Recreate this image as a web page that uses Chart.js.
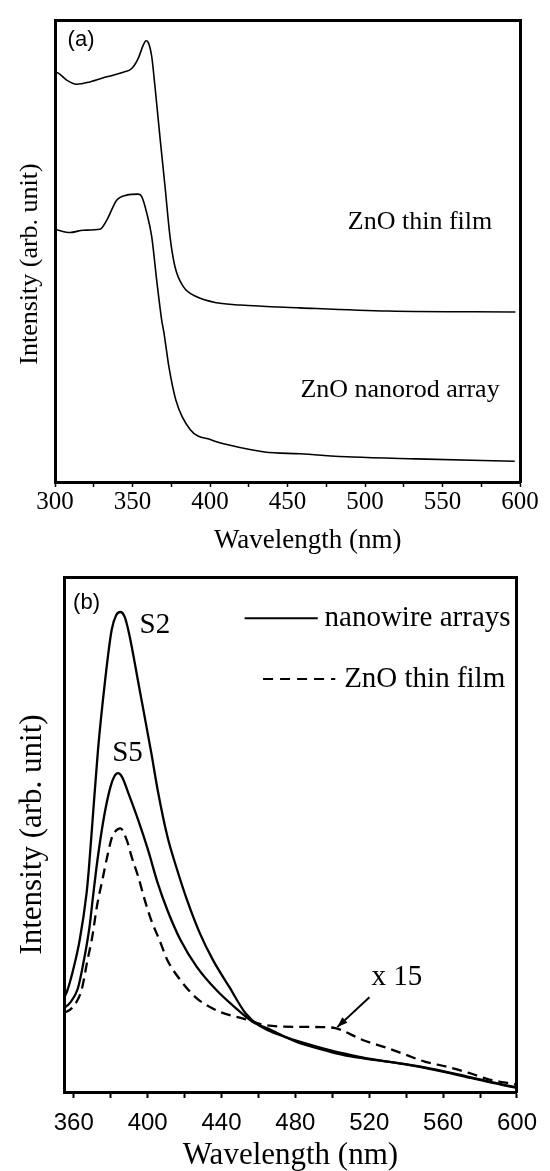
<!DOCTYPE html>
<html>
<head>
<meta charset="utf-8">
<script src="https://cdn.jsdelivr.net/npm/chart.js@4/dist/chart.umd.min.js"></script>
<style>
  body { margin: 0; background: #fff; }
  canvas { display: block; }
</style>
</head>
<body>
<canvas id="absorb" width="550" height="560"></canvas>
<canvas id="pl" width="550" height="611"></canvas>
<script>
// panel (a) - absorption, wavelength in nm / intensity in arb. units
const waveFilmA = [300, 302.1, 307.5, 314, 322.6, 333.4, 344.1, 349.5, 353.7, 357, 358.7, 360.2, 362.4, 364.5, 367.7, 371, 374.2, 377.4, 382.8, 391.4, 404.3, 419.4, 458, 515, 597]
const filmA = [88.7, 88.5, 87.0, 86.1, 86.6, 87.7, 88.7, 89.5, 91.7, 94.6, 95.5, 95.1, 92.1, 85.6, 74.7, 63.9, 53.1, 46.6, 42.3, 40.1, 38.8, 38.3, 37.7, 37.0, 36.8]
const waveRodA = [300, 302.1, 309.7, 318.3, 329, 333.4, 339.8, 346.3, 353.7, 355.9, 359.2, 362.4, 365.6, 368.8, 370.3, 373.5, 378, 387.3, 401, 412.3, 435.2, 457.9, 492, 533, 596.6]
const rodA = [54.7, 54.5, 54.0, 54.5, 54.7, 56.7, 61.0, 62.1, 62.3, 61.8, 58.2, 53.1, 43.7, 35.1, 32.3, 24.9, 17.7, 11.3, 9.1, 8.0, 6.5, 6.1, 5.4, 5.0, 4.5]

// panel (b) - PL spectra
const waveS2 = [354.7, 356.3, 359.5, 363.2, 366.9, 368.2, 370.3, 373.1, 376.8, 380.5, 383, 385.2, 387.5, 389.9, 395.4, 401.9, 405.5, 410.7, 416, 421.3, 428.3, 435.4, 444.2, 453, 460, 474.2, 479.5, 498, 507.5, 518, 532, 550, 568, 585, 600]
const s2 = [18.3, 19.5, 23.5, 29.5, 38.5, 43.5, 53.4, 66.4, 79.4, 89.7, 92.6, 93.2, 92.3, 89.1, 78.6, 66.0, 58.5, 49.6, 43.1, 37.3, 30.8, 25.6, 20.4, 15.3, 13.0, 10.7, 10.1, 8.2, 7.4, 6.6, 5.8, 4.7, 3.3, 1.9, 0.8]
const waveS5 = [354.7, 357.9, 362.1, 364.8, 368.5, 370.2, 372.8, 376.4, 379.9, 382, 383.9, 386.1, 389.6, 394.9, 400.2, 405.5, 410.7, 417.8, 426.6, 437.2, 447.7, 456.6, 467.1, 480, 498, 510, 530, 550, 568, 585, 600]
const s5 = [16.3, 17.3, 20.0, 24.3, 32.0, 37.3, 45.0, 53.5, 59.3, 61.3, 61.9, 61.2, 58.0, 52.8, 47.0, 40.5, 35.3, 29.5, 24.3, 19.8, 16.3, 13.7, 12.0, 9.8, 7.9, 6.9, 5.9, 4.8, 3.4, 2.0, 0.9]
const waveFilmB = [354.7, 359.5, 364.2, 367.4, 369.7, 372.8, 375.5, 378.1, 380.8, 383, 385.2, 388.7, 391.3, 394.9, 398.4, 401.9, 406.4, 410.7, 417.8, 426.6, 438.9, 451.3, 463.6, 474.2, 494.2, 501.6, 516.4, 530, 540, 550, 562, 574, 585, 594, 600]
const filmB = [15.3, 16.5, 19.8, 25.6, 29.5, 36.6, 41.2, 45.7, 49.6, 50.8, 51.2, 48.9, 45.7, 41.8, 37.3, 33.4, 29.5, 25.6, 21.7, 18.2, 15.6, 14.3, 13.0, 12.7, 12.6, 12.4, 10.1, 8.5, 7.2, 5.9, 4.9, 3.7, 2.4, 1.8, 1.4]

const serif = 'Liberation Serif'
const sans = 'Liberation Sans'
const nb = '\u00a0'
Chart.defaults.color = '#000'
Chart.defaults.animation = false

const pts = (xs, ys) => xs.map((v, i) => ({x: v, y: ys[i]}))

// text, legend lines and arrow, placed in data coordinates
const notes = {
  id: 'notes',
  afterDatasetsDraw(chart, args, opts) {
    const {ctx, scales: {x, y}} = chart
    ctx.save()
    ctx.fillStyle = '#000'
    ctx.strokeStyle = '#000'
    for (const n of opts.items) {
      const px = x.getPixelForValue(n.at[0])
      const py = y.getPixelForValue(n.at[1])
      if (n.text) {
        ctx.font = n.font
        ctx.textAlign = n.align || 'center'
        ctx.textBaseline = 'middle'
        ctx.fillText(n.text, px, py)
      }
      if (n.to) {
        const qx = x.getPixelForValue(n.to[0])
        const qy = y.getPixelForValue(n.to[1])
        ctx.lineWidth = n.width || 2
        ctx.setLineDash(n.dash || [])
        ctx.beginPath()
        ctx.moveTo(px, py)
        ctx.lineTo(qx, qy)
        ctx.stroke()
        ctx.setLineDash([])
        if (n.arrow) {
          const a = Math.atan2(qy - py, qx - px)
          ctx.beginPath()
          ctx.moveTo(qx, qy)
          ctx.lineTo(qx - 11 * Math.cos(a - 0.35), qy - 11 * Math.sin(a - 0.35))
          ctx.lineTo(qx - 11 * Math.cos(a + 0.35), qy - 11 * Math.sin(a + 0.35))
          ctx.closePath()
          ctx.fill()
        }
      }
    }
    ctx.restore()
  }
}

function frameAxis(pos, extra) {
  return Object.assign({
    position: pos,
    afterFit: s => { if (s.isHorizontal()) s.height = 0; else s.width = 0 },
    ticks: {display: false},
    grid: {display: false, drawTicks: false},
    border: {display: true, color: '#000', width: 3}
  }, extra)
}

new Chart(document.getElementById('absorb'), {
  type: 'line',
  data: {
    datasets: [
      {data: pts(waveFilmA, filmA), borderColor: '#000', borderWidth: 1.6, pointRadius: 0, cubicInterpolationMode: 'monotone'},
      {data: pts(waveRodA, rodA), borderColor: '#000', borderWidth: 1.6, pointRadius: 0, cubicInterpolationMode: 'monotone'}
    ]
  },
  options: {
    responsive: false,
    devicePixelRatio: 1,
    layout: {padding: {top: 20, right: 30, left: 0, bottom: 0}},
    plugins: {
      legend: {display: false},
      tooltip: {enabled: false},
      notes: {
        items: [
          {text: '(a)', at: [316.8, 95.7], font: '22px ' + sans},
          {text: 'ZnO thin film', at: [535.5, 56.3], font: '26px ' + serif},
          {text: 'ZnO nanorod array', at: [522.6, 19.9], font: '26px ' + serif}
        ]
      }
    },
    scales: {
      x: {
        type: 'linear', min: 300, max: 600,
        afterFit: s => { s.height = 78 },
        ticks: {stepSize: 25, padding: 3, maxRotation: 0, autoSkip: false,
          font: {family: serif, size: 25, lineHeight: 1},
          callback: v => v % 50 === 0 ? v : ''},
        grid: {drawOnChartArea: false, tickLength: 5, tickColor: '#000', tickWidth: 1.5},
        border: {color: '#000', width: 3},
        title: {display: true, text: nb.repeat(6) + 'Wavelength (nm)', font: {family: serif, size: 27, lineHeight: 1}, padding: {top: 0, bottom: 6}}
      },
      y: {
        min: 0, max: 100,
        afterFit: s => { s.width = 55 },
        ticks: {display: false},
        grid: {display: false, drawTicks: false},
        border: {color: '#000', width: 3},
        title: {display: true, text: 'Intensity (arb. unit)' + nb.repeat(4), font: {family: serif, size: 26, lineHeight: 1}, padding: {top: 17, bottom: 0}}
      },
      xTop: frameAxis('top', {min: 300, max: 600}),
      yRight: frameAxis('right', {min: 0, max: 100})
    }
  },
  plugins: [notes]
})

new Chart(document.getElementById('pl'), {
  type: 'line',
  data: {
    datasets: [
      {data: pts(waveS2, s2), borderColor: '#000', borderWidth: 2.3, pointRadius: 0, cubicInterpolationMode: 'monotone'},
      {data: pts(waveS5, s5), borderColor: '#000', borderWidth: 2.3, pointRadius: 0, cubicInterpolationMode: 'monotone'},
      {data: pts(waveFilmB, filmB), borderColor: '#000', borderWidth: 2.3, borderDash: [10, 6], pointRadius: 0, cubicInterpolationMode: 'monotone'}
    ]
  },
  options: {
    responsive: false,
    devicePixelRatio: 1,
    layout: {padding: {top: 17, right: 22, left: 0, bottom: 0}},
    plugins: {
      legend: {display: false},
      tooltip: {enabled: false},
      notes: {
        items: [
          {text: '(b)', at: [366.9, 95.0], font: '22px ' + sans},
          {text: 'S2', at: [403.9, 90.7], font: '29px ' + serif},
          {text: 'S5', at: [389.1, 65.8], font: '29px ' + serif},
          {at: [452.5, 92.0], to: [492.1, 92.0], width: 2},
          {text: 'nanowire arrays', at: [495.8, 92.0], font: '29px ' + serif, align: 'left'},
          {at: [462.5, 80.2], to: [501.6, 80.2], width: 2, dash: [10, 7]},
          {text: 'ZnO thin film', at: [506.4, 80.2], font: '29px ' + serif, align: 'left'},
          {text: 'x 15', at: [535, 22.3], font: '29px ' + serif},
          {at: [520.1, 18.4], to: [502.7, 12.6], width: 2, arrow: true}
        ]
      }
    },
    scales: {
      x: {
        type: 'linear', min: 354.7, max: 600,
        afterFit: s => { s.height = 79 },
        ticks: {stepSize: 20, includeBounds: false, padding: 13, maxRotation: 0, autoSkip: false,
          font: {family: sans, size: 24, lineHeight: 1},
          callback: v => v % 40 === 0 ? v : ''},
        grid: {drawOnChartArea: false, tickLength: 6, tickColor: '#000', tickWidth: 2},
        border: {color: '#000', width: 3},
        title: {display: true, text: 'Wavelength (nm)', font: {family: serif, size: 31, lineHeight: 1}, padding: {top: 0, bottom: 0}}
      },
      y: {
        min: 0, max: 100,
        afterFit: s => { s.width = 64 },
        ticks: {display: false},
        grid: {display: false, drawTicks: false},
        border: {color: '#000', width: 3},
        title: {display: true, text: 'Intensity (arb. unit)', font: {family: serif, size: 31, lineHeight: 1}, padding: {top: 17, bottom: 0}}
      },
      xTop: frameAxis('top', {min: 354.7, max: 600}),
      yRight: frameAxis('right', {min: 0, max: 100})
    }
  },
  plugins: [notes]
})
</script>
</body>
</html>
